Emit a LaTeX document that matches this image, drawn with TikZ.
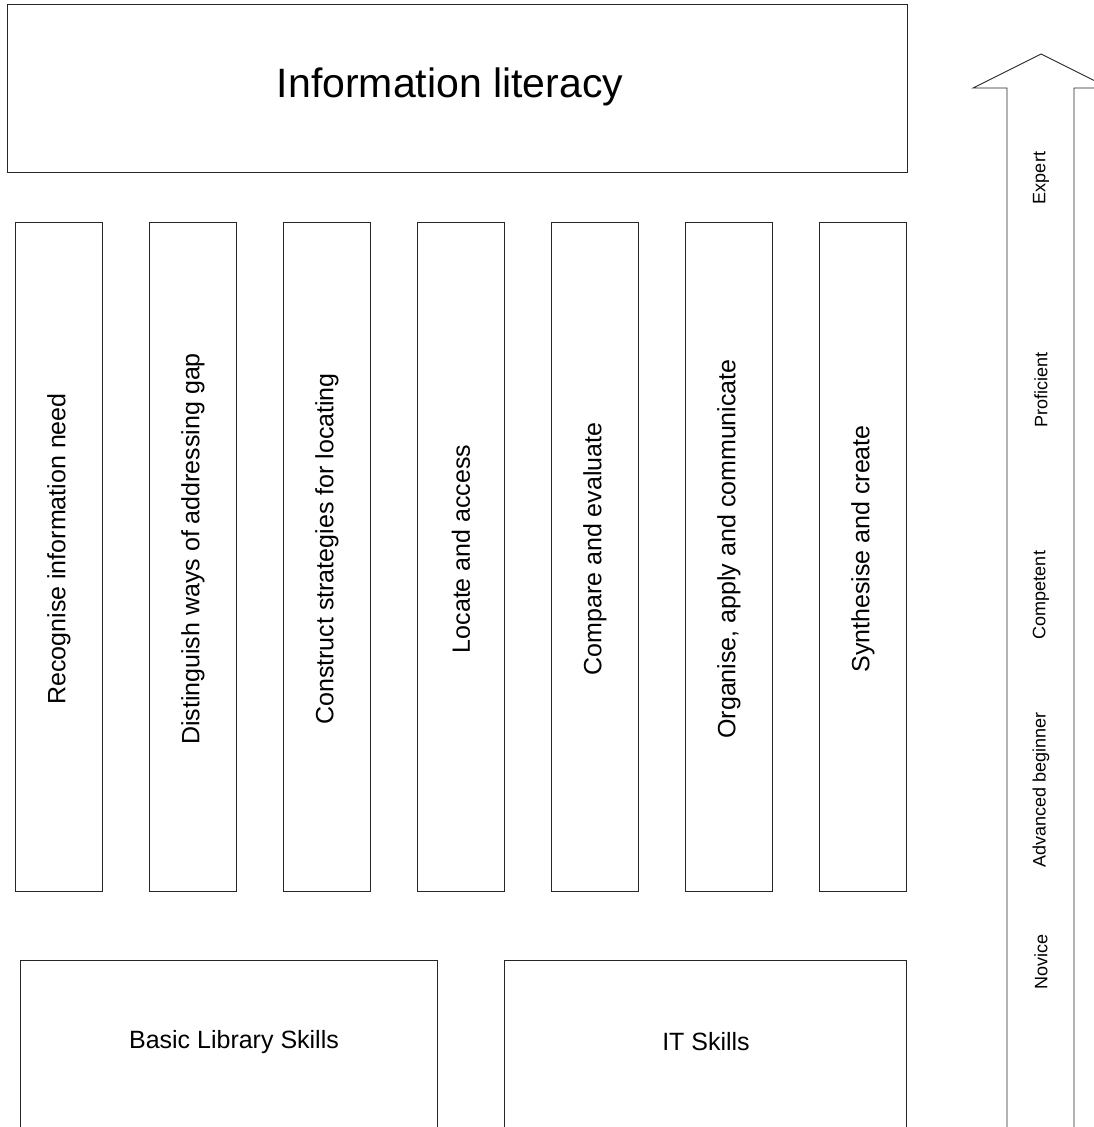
\documentclass[tikz,border=0pt]{standalone}
\usepackage{fontspec}
\setmainfont{Liberation Sans}
\begin{document}
\begin{tikzpicture}[x=1pt,y=-1pt,
  line/.style={draw=black!85,line width=0.9pt},
  boxnode/.style={line,rectangle,inner sep=0pt,anchor=north west},
  colbox/.style={boxnode,minimum width=87pt,minimum height=669pt},
  coltext/.style={rotate=90,font=\fontsize{25}{30}\selectfont},
  lvl/.style={rotate=90,font=\fontsize{18}{22}\selectfont},
  btext/.style={font=\fontsize{25}{30}\selectfont}]
\useasboundingbox (0,0) rectangle (1094,1127);
\clip (0,0) rectangle (1094,1127);
% top box
\node[boxnode,minimum width=900pt,minimum height=168pt] (top) at (7,4) {};
\node[font=\fontsize{41}{48}\selectfont] (title) at (450,87) {Information literacy};
% columns
\foreach \i/\x/\t in {1/15/Recognise information need,
                      2/149/Distinguish ways of addressing gap,
                      3/283/Construct strategies for locating,
                      4/417/Locate and access,
                      5/551/Compare and evaluate,
                      6/685/{Organise, apply and communicate},
                      7/819/Synthesise and create}{
  \node[colbox] (c\i) at (\x,222) {};
  \node[coltext] (t\i) at ([yshift=8pt]c\i.center) {\t};
}
% bottom boxes (cut by the page edge)
\coordinate (b1bl) at (20,1140);
\coordinate (b1tl) at (20,960);
\coordinate (b1tr) at (437,960);
\coordinate (b1br) at (437,1140);
\draw[line] (b1bl) -- (b1tl) -- (b1tr) -- (b1br);
\node[btext] (basic) at (234,1042) {Basic Library Skills};
\coordinate (b2bl) at (504,1140);
\coordinate (b2tl) at (504,960);
\coordinate (b2tr) at (906,960);
\coordinate (b2br) at (906,1140);
\draw[line] (b2bl) -- (b2tl) -- (b2tr) -- (b2br);
\node[btext] (it) at (706,1042) {IT Skills};
% big arrow
\coordinate (sl) at (1007,1140);
\coordinate (sr) at (1074,1140);
\coordinate (tip) at (1041,54);
\draw[line,line join=miter] (sl) -- (1007,88) -- (973,88) -- (tip) -- (1109,88) -- (1074,88) -- (sr);
\node[lvl] (expert) at (1041,178) {Expert};
\node[lvl] (prof) at (1041,390) {Proficient};
\node[lvl] (comp) at (1041,595) {Competent};
\node[lvl] (adv) at (1041,790) {Advanced beginner};
\node[lvl] (nov) at (1041,962) {Novice};
\end{tikzpicture}
\end{document}
